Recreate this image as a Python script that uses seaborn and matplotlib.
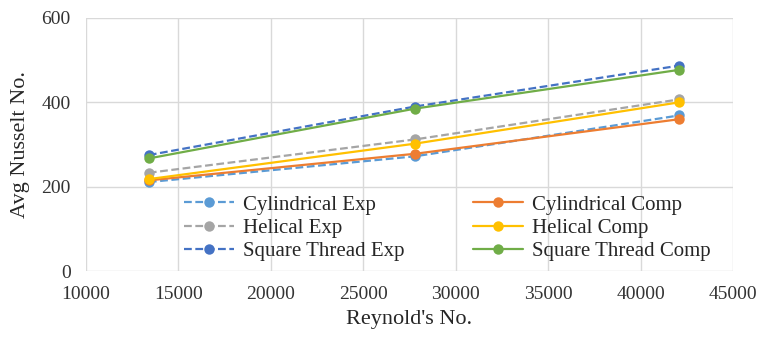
import pandas as pd
import numpy as np
import matplotlib.pyplot as plt
import seaborn as sns

# data
reynolds = [13400, 27800, 42100]
cyl_exp = [211, 272, 369]
cyl_comp = [215, 278, 360]
hel_exp = [233, 312, 407]
hel_comp = [218, 302, 400]
sq_exp = [275, 390, 487]
sq_comp = [267, 385, 477]

dash = (0, (3.5, 1.6))
series = [
    ('Cylindrical Exp', cyl_exp, '#5B9BD5', dash),
    ('Cylindrical Comp', cyl_comp, '#ED7D31', '-'),
    ('Helical Exp', hel_exp, '#A5A5A5', dash),
    ('Helical Comp', hel_comp, '#FFC000', '-'),
    ('Square Thread Exp', sq_exp, '#4472C4', dash),
    ('Square Thread Comp', sq_comp, '#70AD47', '-'),
]

sns.set_style('white')
plt.rcParams['font.family'] = ['Liberation Serif', 'DejaVu Serif']

fig = plt.figure(figsize=(7.63, 3.38), dpi=100)
ax = fig.add_axes([0.1127, 0.198, 0.848, 0.749])

handles = {}
for name, vals, col, ls in series:
    df = pd.DataFrame({'Re': reynolds, 'Nu': vals})
    sns.lineplot(data=df, x='Re', y='Nu', ax=ax, color=col, linestyle=ls,
                 linewidth=1.6, marker='o', markersize=7.5, markeredgewidth=0,
                 label=name)
    handles[name] = ax.lines[-1]

ax.set_xlim(10000, 45000)
ax.set_ylim(0, 600)
ax.set_xticks(np.arange(10000, 45001, 5000))
ax.set_yticks([0, 200, 400, 600])
ax.grid(True, color='#d9d9d9', linewidth=1)
for s in ax.spines.values():
    s.set_visible(False)
ax.tick_params(labelsize=14, colors='#333333', length=0)
ax.tick_params(axis='x', pad=11)
ax.tick_params(axis='y', pad=11)
ax.set_xlabel("Reynold's No.", fontsize=16, color='#262626', labelpad=5)
ax.set_ylabel('Avg Nusselt No.', fontsize=16, color='#262626', labelpad=8)

order = ['Cylindrical Exp', 'Helical Exp', 'Square Thread Exp',
         'Cylindrical Comp', 'Helical Comp', 'Square Thread Comp']
leg = ax.legend([handles[n] for n in order], order, ncol=2, loc='upper left',
                bbox_to_anchor=(0.1515, 0.30), fontsize=15, frameon=False,
                handlelength=2.4, columnspacing=3.3, labelspacing=0.18,
                handletextpad=0.43, borderpad=0, borderaxespad=0)
for t in leg.get_texts():
    t.set_color('#262626')

fig.savefig('out.png', dpi=100)
